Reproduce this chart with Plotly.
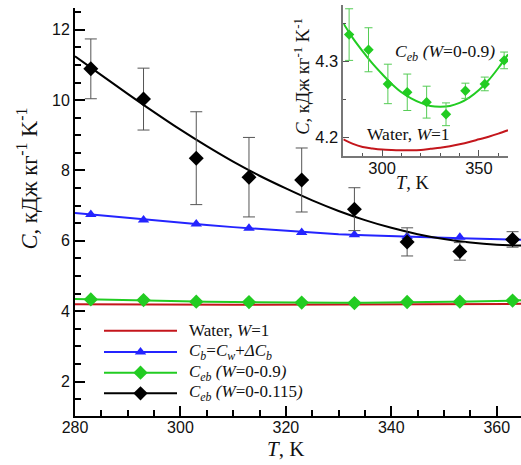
import plotly.graph_objects as go

# Measured temperatures and heat capacities
T_data = [283, 293, 303, 313, 323, 333, 343, 353, 363]
ceb_low = [10.89, 10.03, 8.35, 7.81, 7.73, 6.90, 5.97, 5.70, 6.04]      # Ceb (W=0-0.115)
ceb_low_err = [0.85, 0.88, 1.32, 1.13, 0.91, 0.61, 0.40, 0.25, 0.22]
cb_pts = [6.75, 6.59, 6.48, 6.36, 6.24, 6.17, 6.12, 6.10, 6.05]          # Cb = Cw + dCb
ceb_high = [4.335, 4.315, 4.270, 4.259, 4.246, 4.230, 4.261, 4.270, 4.301]  # Ceb (W=0-0.9)
ceb_high_err = [0.034, 0.029, 0.026, 0.024, 0.021, 0.015, 0.010, 0.009, 0.011]

# Smooth curves sampled every 5 K
T_curve = [280, 285, 290, 295, 300, 305, 310, 315, 320, 325, 330, 335, 340, 345, 350, 355, 360, 365]
water = [4.197, 4.191, 4.187, 4.185, 4.1835, 4.1828, 4.1825, 4.1825, 4.183, 4.1845,
         4.186, 4.188, 4.1905, 4.1935, 4.197, 4.2005, 4.2045, 4.209]
cb_curve = [6.79, 6.72, 6.64, 6.57, 6.51, 6.45, 6.39, 6.34, 6.28, 6.23,
            6.19, 6.16, 6.13, 6.11, 6.09, 6.07, 6.05, 6.03]
ceb_high_fit = [4.350, 4.330, 4.313, 4.297, 4.283, 4.270, 4.259, 4.251, 4.245, 4.241,
                4.240, 4.241, 4.245, 4.252, 4.262, 4.275, 4.291, 4.309]
ceb_low_fit = [11.25, 10.71, 10.18, 9.66, 9.16, 8.69, 8.25, 7.85, 7.49, 7.15,
               6.85, 6.59, 6.37, 6.19, 6.05, 5.95, 5.89, 5.87]

RED = "#c4161c"
BLUE = "#2424ff"
GREEN = "#22cc22"
GREEN_ERR = "#55cc55"
BLACK = "#000000"
SERIF = "Liberation Serif"
SANS = "Liberation Sans"

fig = go.Figure()

# ---- main panel ----
fig.add_trace(go.Scatter(x=T_curve, y=water, mode="lines",
                         line=dict(color=RED, width=2), xaxis="x", yaxis="y"))
fig.add_trace(go.Scatter(x=T_curve, y=cb_curve, mode="lines",
                         line=dict(color=BLUE, width=2), xaxis="x", yaxis="y"))
fig.add_trace(go.Scatter(x=T_data, y=cb_pts, mode="markers",
                         marker=dict(symbol="triangle-up", size=10, color=BLUE),
                         xaxis="x", yaxis="y"))
fig.add_trace(go.Scatter(x=T_curve, y=ceb_high_fit, mode="lines",
                         line=dict(color=GREEN, width=2), xaxis="x", yaxis="y"))
fig.add_trace(go.Scatter(x=T_data, y=ceb_high, mode="markers",
                         marker=dict(symbol="diamond", size=11, color=GREEN),
                         xaxis="x", yaxis="y"))
fig.add_trace(go.Scatter(x=T_curve, y=ceb_low_fit, mode="lines", line_shape="spline",
                         line=dict(color=BLACK, width=2), xaxis="x", yaxis="y"))
fig.add_trace(go.Scatter(x=T_data, y=ceb_low, mode="markers",
                         marker=dict(symbol="diamond", size=11.5, color=BLACK),
                         error_y=dict(type="data", array=ceb_low_err, color="#555555",
                                      thickness=1, width=6),
                         xaxis="x", yaxis="y"))

# ---- inset panel ----
fig.add_trace(go.Scatter(x=T_curve, y=water, mode="lines", line_shape="spline",
                         line=dict(color=RED, width=2), xaxis="x2", yaxis="y2"))
fig.add_trace(go.Scatter(x=T_curve, y=ceb_high_fit, mode="lines", line_shape="spline",
                         line=dict(color=GREEN, width=2), xaxis="x2", yaxis="y2"))
fig.add_trace(go.Scatter(x=T_data, y=ceb_high, mode="markers",
                         marker=dict(symbol="diamond", size=8, color=GREEN),
                         error_y=dict(type="data", array=ceb_high_err, color=GREEN_ERR,
                                      thickness=1, width=4),
                         xaxis="x2", yaxis="y2"))

# ---- legend drawn on an overlay axis (pixel-like units inside the plot area) ----
legend_rows = [85.3, 64.0, 43.3, 22.7]
legend_line_x = [29, 102]
legend_mark_x = 65.5
legend_text_x = 112
legend_colors = [RED, BLUE, GREEN, BLACK]
legend_symbols = [None, "triangle-up", "diamond", "diamond"]
legend_labels = [
    "Water, <i>W</i>=1",
    "<i>C<sub>b</sub></i>=<i>C<sub>w</sub></i>+<i>ΔC<sub>b</sub></i>",
    "<i>C<sub>eb</sub> (W</i>=0-0.9<i>)</i>",
    "<i>C<sub>eb</sub> (W</i>=0-0.115<i>)</i>",
]
for row, col, sym in zip(legend_rows, legend_colors, legend_symbols):
    fig.add_trace(go.Scatter(x=legend_line_x, y=[row, row], mode="lines",
                             line=dict(color=col, width=2), xaxis="x3", yaxis="y3"))
    if sym:
        fig.add_trace(go.Scatter(x=[legend_mark_x], y=[row], mode="markers",
                                 marker=dict(symbol=sym, size=11 if sym == "diamond" else 10,
                                             color=col),
                                 xaxis="x3", yaxis="y3"))

annotations = []
for row, lab in zip(legend_rows, legend_labels):
    annotations.append(dict(x=legend_text_x, y=row, xref="x3", yref="y3", text=lab,
                            showarrow=False, xanchor="left", yanchor="middle",
                            font=dict(family=SERIF, size=17, color="#111")))

# axis titles
annotations += [
    dict(x=-0.108, y=0.576, xref="paper", yref="paper", textangle=-90,
         text="<i>C</i>, кДж кг<sup>-1</sup> K<sup>-1</sup>", showarrow=False,
         xanchor="center", yanchor="middle", font=dict(family=SERIF, size=22.5, color="#111")),
    dict(x=0.471, y=-0.08, xref="paper", yref="paper",
         text="<i>T</i>, K", showarrow=False,
         xanchor="center", yanchor="middle", font=dict(family=SERIF, size=21, color="#111")),
    dict(x=0.5083, y=0.825, xref="paper", yref="paper", textangle=-90,
         text="<i>C</i>, кДж кг<sup>-1</sup> K<sup>-1</sup>", showarrow=False,
         xanchor="center", yanchor="middle", font=dict(family=SERIF, size=18.5, color="#111")),
    dict(x=0.758, y=0.5655, xref="paper", yref="paper",
         text="<i>T</i>, K", showarrow=False,
         xanchor="center", yanchor="middle", font=dict(family=SERIF, size=18.5, color="#111")),
    # inset curve labels
    dict(x=332.5, y=4.312, xref="x2", yref="y2",
         text="<i>C<sub>eb</sub> (W</i>=0-0.9<i>)</i>", showarrow=False,
         xanchor="center", yanchor="middle", font=dict(family=SERIF, size=17.5, color="#111")),
    dict(x=313.5, y=4.204, xref="x2", yref="y2",
         text="Water, <i>W</i>=1", showarrow=False,
         xanchor="center", yanchor="middle", font=dict(family=SERIF, size=17.5, color="#111")),
]

tickfont = dict(family=SANS, size=16, color="#111")
inset_tickfont = dict(family=SANS, size=16.5, color="#111")

fig.update_layout(
    width=521, height=465,
    margin=dict(l=75, r=0, t=4, b=49),
    paper_bgcolor="white", plot_bgcolor="rgba(0,0,0,0)",
    showlegend=False,
    annotations=annotations,
    xaxis=dict(domain=[0, 1], range=[280, 364.6], anchor="y",
               showline=True, linecolor="black", linewidth=2, mirror=False,
               showgrid=False, zeroline=False,
               ticks="inside", ticklen=10, tickwidth=2, tickcolor="black",
               tick0=280, dtick=20, tickfont=tickfont, ticklabelstandoff=-4,
               minor=dict(dtick=5, ticks="inside", ticklen=6, tickwidth=1.5,
                          tickcolor="black", showgrid=False)),
    yaxis=dict(domain=[0, 0.9903], range=[1.02, 12.62], anchor="x",
               showline=True, linecolor="black", linewidth=2,
               showgrid=False, zeroline=False,
               ticks="inside", ticklen=10, tickwidth=2, tickcolor="black",
               tick0=0, dtick=2, tickfont=tickfont,
               minor=dict(dtick=0.5, ticks="inside", ticklen=6, tickwidth=1.5,
                          tickcolor="black", showgrid=False)),
    xaxis2=dict(domain=[0.6016, 0.9709], range=[280, 365], anchor="y2",
                showline=True, linecolor="#777", linewidth=1.5,
                showgrid=False, zeroline=False,
                ticks="inside", ticklen=6, tickwidth=1, tickcolor="#555",
                tick0=300, dtick=50, tickfont=inset_tickfont, ticklabelstandoff=-4,
                minor=dict(dtick=10, ticks="inside", ticklen=3, tickwidth=1,
                           tickcolor="#555", showgrid=False)),
    yaxis2=dict(domain=[0.631, 0.9976], range=[4.175, 4.374], anchor="x2",
                showline=True, linecolor="#777", linewidth=1.5,
                showgrid=False, zeroline=False,
                ticks="inside", ticklen=6, tickwidth=1, tickcolor="#555",
                tick0=4.2, dtick=0.1, tickformat=".1f", tickfont=inset_tickfont,
                minor=dict(dtick=0.05, ticks="inside", ticklen=3, tickwidth=1,
                           tickcolor="#555", showgrid=False)),
    xaxis3=dict(domain=[0, 1], range=[0, 446], anchor="y3", visible=False, fixedrange=True),
    yaxis3=dict(domain=[0, 1], range=[0, 412], anchor="x3", visible=False, fixedrange=True),
)

fig.write_html("out.html")
